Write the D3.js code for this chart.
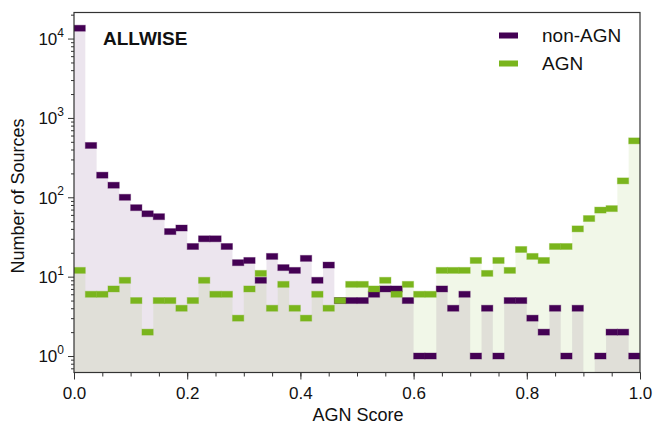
<!DOCTYPE html>
<html>
<head>
<meta charset="utf-8">
<script src="https://cdn.jsdelivr.net/npm/d3@7"></script>
<style>
  body { margin: 0; background: #fff; }
  svg { display: block; font-family: "Liberation Sans", Arial, sans-serif; }
</style>
</head>
<body>
<svg id="chart" width="654" height="426"></svg>
<script>
// histogram, 50 bins over [0, 1]
const binEdges = d3.range(0, 51).map(i => i / 50);
const nonAgn = [13500, 450, 190, 142, 100, 74, 62, 57, 37, 41,
                24, 30, 30, 24, 15, 16, 9, 18, 13, 12,
                17, 9, 14, 5, 5, 5, 6, 7, 7, 5,
                1, 1, 7, 4, 6, 1, 4, 1, 5, 5,
                3, 2, 4, 1, 4, 0, 1, 2, 2, 1];
const agn = [12, 6, 6, 7, 9, 5, 2, 5, 5, 4,
             5, 9, 6, 6, 3, 7, 11, 4, 8, 4,
             3, 6, 4, 5, 8, 8, 7, 9, 6, 8,
             6, 6, 12, 12, 12, 16, 11, 16, 12, 22,
             18, 16, 24, 24, 40, 54, 69, 72, 161, 514];
const xTicks = [0, 0.2, 0.4, 0.6, 0.8, 1.0];
const yTicks = [1, 10, 100, 1000, 10000];
const seriesNames = ['non-AGN', 'AGN'];

const purple = '#440154';
const green = '#7ab51d';

const svg = d3.select('#chart');
const margin = {top: 12.5, right: 14, bottom: 53.5, left: 74};
const width = 654 - margin.left - margin.right;
const height = 426 - margin.top - margin.bottom;

const x = d3.scaleLinear().domain([0, 1]).range([0, width]);
const y = d3.scaleLog().domain([0.62, 21300]).range([height, 0]);

svg.append('defs').append('clipPath').attr('id', 'clip')
  .append('rect').attr('width', width).attr('height', height);

const g = svg.append('g').attr('transform', `translate(${margin.left},${margin.top})`);
const plot = g.append('g').attr('clip-path', 'url(#clip)');

function stepPoints(vals) {
  const pts = [];
  vals.forEach((v, i) => {
    pts.push([binEdges[i], v]);
    pts.push([binEdges[i + 1], v]);
  });
  return pts;
}

const area = d3.area()
  .x(d => x(d[0]))
  .y0(height)
  .y1(d => d[1] > 0 ? y(d[1]) : height);

// fills
[[nonAgn, purple], [agn, green]].forEach(([vals, col]) => {
  plot.append('path')
    .datum(stepPoints(vals))
    .attr('d', area)
    .attr('fill', col)
    .attr('fill-opacity', 0.1);
});

// bar-top markers
[[nonAgn, purple], [agn, green]].forEach(([vals, col]) => {
  plot.append('g').selectAll('rect')
    .data(vals.map((v, i) => ({v, i})).filter(d => d.v > 0))
    .join('rect')
    .attr('x', d => x(binEdges[d.i]))
    .attr('width', d => x(binEdges[d.i + 1]) - x(binEdges[d.i]))
    .attr('y', d => y(d.v) - 3)
    .attr('height', 6)
    .attr('fill', col)
    .attr('stroke', col)
    .attr('stroke-opacity', 0.35)
    .attr('stroke-width', 1);
});

// axes
const xAxis = g.append('g').attr('transform', `translate(0,${height})`);
xAxis.call(d3.axisBottom(x).tickValues(d3.range(0, 1.0001, 0.05)).tickSize(4).tickFormat(''));
xAxis.append('g').call(d3.axisBottom(x).tickValues(xTicks).tickSize(7).tickFormat(d3.format('.1f')));
xAxis.selectAll('.domain').remove();
xAxis.selectAll('text').attr('font-size', 17).attr('fill', '#111').attr('dy', '0.95em');

const minorY = [];
for (let e = -1; e <= 4; e++) {
  for (let m = 2; m <= 9; m++) {
    const v = m * Math.pow(10, e);
    if (v > 0.62 && v < 21300) minorY.push(v);
  }
}
const yAxis = g.append('g');
yAxis.call(d3.axisLeft(y).tickValues(minorY).tickSize(3).tickFormat(''));
const yMajor = yAxis.append('g').call(d3.axisLeft(y).tickValues(yTicks).tickSize(6).tickFormat(''));
yAxis.selectAll('.domain').remove();
yMajor.selectAll('.tick').append('text')
  .attr('x', -10)
  .attr('dy', '0.35em')
  .attr('text-anchor', 'end')
  .attr('fill', '#111')
  .attr('font-size', 17)
  .each(function(d) {
    const t = d3.select(this);
    t.append('tspan').text('10');
    t.append('tspan').attr('font-size', 12).attr('dy', '-0.7em').text(Math.round(Math.log10(d)));
  });

g.selectAll('.tick line').attr('stroke', '#333');

// frame
g.append('rect')
  .attr('width', width).attr('height', height)
  .attr('fill', 'none').attr('stroke', '#333').attr('stroke-width', 1.2);

// labels
svg.append('text')
  .attr('x', 358).attr('y', 421)
  .attr('text-anchor', 'middle')
  .attr('font-size', 18).attr('fill', '#111')
  .text('AGN Score');

svg.append('text')
  .attr('transform', 'translate(24,196) rotate(-90)')
  .attr('text-anchor', 'middle')
  .attr('font-size', 18).attr('fill', '#111')
  .text('Number of Sources');

svg.append('text')
  .attr('x', 103).attr('y', 45)
  .attr('font-size', 19).attr('font-weight', 'bold').attr('fill', '#111')
  .text('ALLWISE');

// legend
const legend = svg.append('g');
seriesNames.forEach((name, i) => {
  const cy = 35.5 + i * 28;
  legend.append('rect')
    .attr('x', 499).attr('y', cy - 3)
    .attr('width', 19).attr('height', 6)
    .attr('fill', i === 0 ? purple : green);
  legend.append('text')
    .attr('x', 542).attr('y', cy + 6.5)
    .attr('font-size', 19).attr('fill', '#111')
    .text(name);
});
</script>
</body>
</html>
